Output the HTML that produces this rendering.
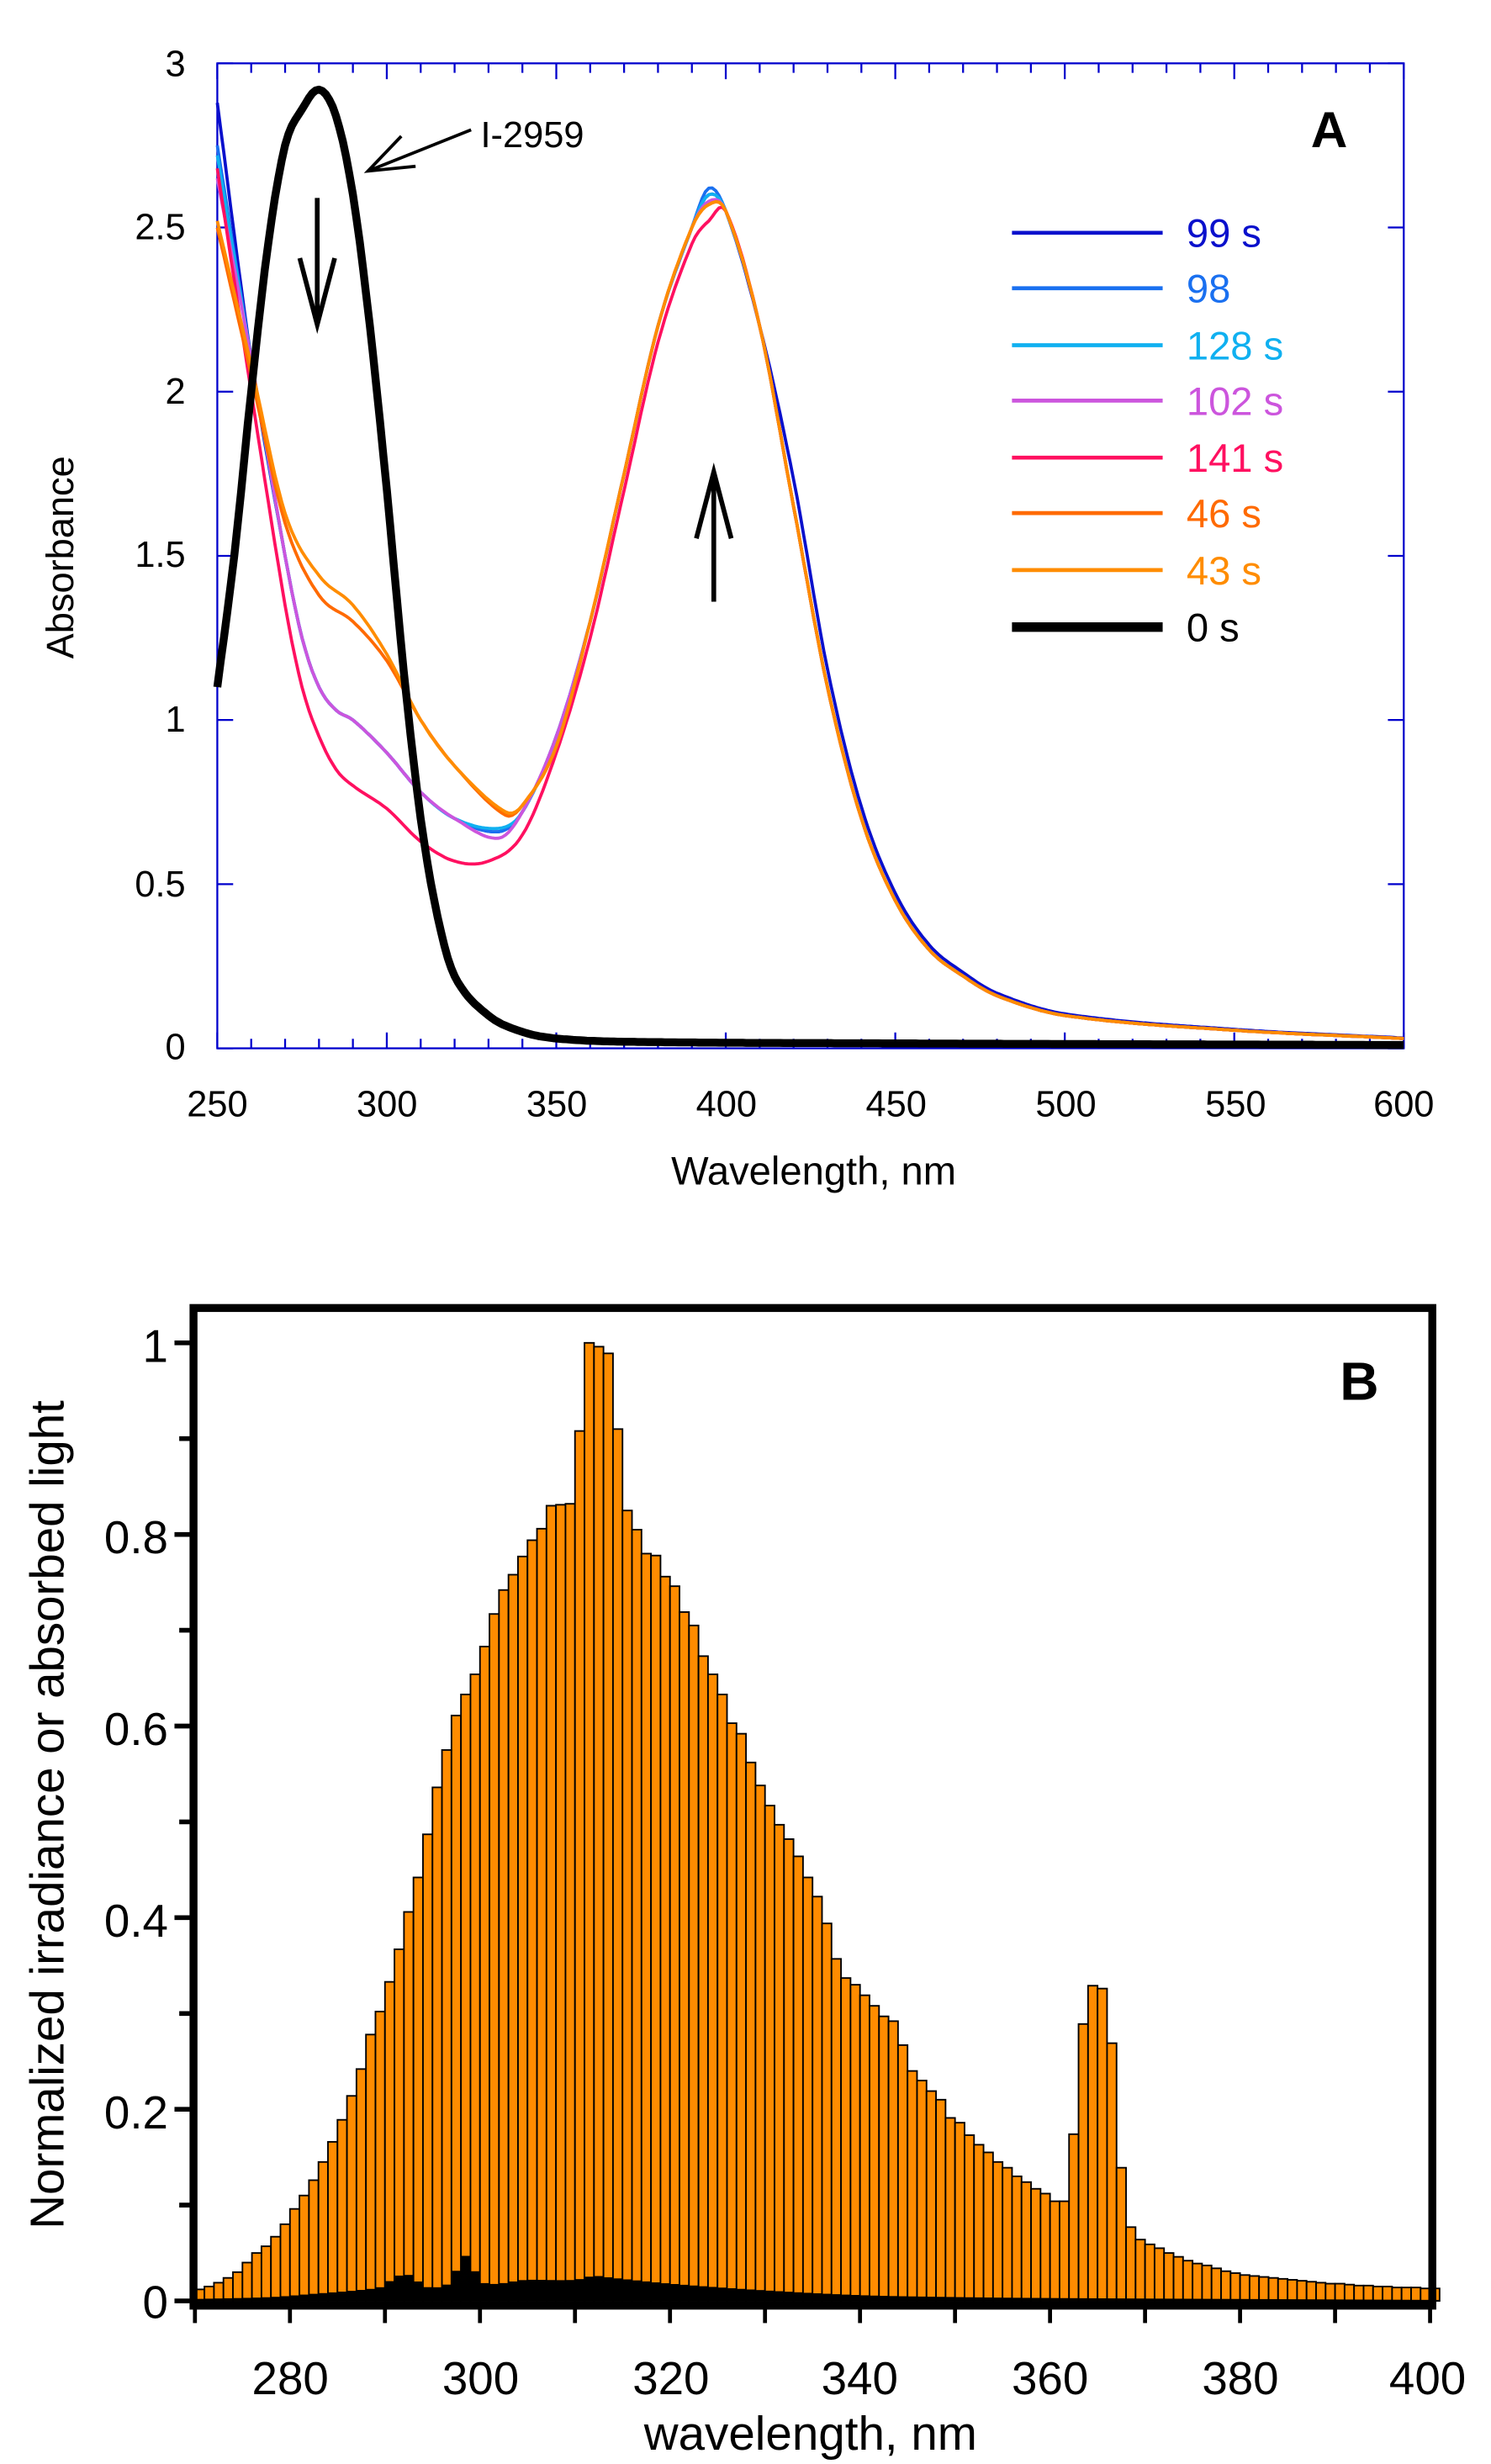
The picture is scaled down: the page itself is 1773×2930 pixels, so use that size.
<!DOCTYPE html>
<html><head><meta charset="utf-8"><style>html,body{margin:0;padding:0;background:#fff}svg{display:block}</style></head>
<body>
<svg id="s" width="1773" height="2930" viewBox="0 0 940 1556" preserveAspectRatio="none" xmlns="http://www.w3.org/2000/svg" font-family="Liberation Sans, sans-serif">
<rect width="940" height="1556" fill="#fff"/>
<g id="A"></g>
<g id="B"></g>
<!-- Chart A text -->
<g font-size="23" text-anchor="middle" fill="#000">
<text x="137" y="705">250</text><text x="244" y="705">300</text><text x="351" y="705">350</text><text x="458" y="705">400</text><text x="565" y="705">450</text><text x="672" y="705">500</text><text x="779" y="705">550</text><text x="885" y="705">600</text>
</g>
<g font-size="23" text-anchor="end" fill="#000">
<text x="117" y="48">3</text><text x="117" y="151">2.5</text><text x="117" y="255">2</text><text x="117" y="358">1.5</text><text x="117" y="462">1</text><text x="117" y="566">0.5</text><text x="117" y="669">0</text>
</g>
<text x="513" y="748" font-size="25" text-anchor="middle">Wavelength, nm</text>
<text transform="translate(46,352) rotate(-90)" font-size="24" text-anchor="middle">Absorbance</text>
<text x="838" y="93" font-size="32" font-weight="bold" text-anchor="middle">A</text>
<text x="303" y="93" font-size="23">I-2959</text>
<g font-size="25">
<text x="748" y="156" fill="#0a10cc">99 s</text>
<text x="748" y="191" fill="#1a70f0">98</text>
<text x="748" y="227" fill="#10b0f0">128 s</text>
<text x="748" y="262" fill="#cc55dd">102 s</text>
<text x="748" y="298" fill="#ff1060">141 s</text>
<text x="748" y="333" fill="#ff6a00">46 s</text>
<text x="748" y="369" fill="#ff8c00">43 s</text>
<text x="748" y="405" fill="#000">0 s</text>
</g>
<!-- Chart B text -->
<g font-size="29" text-anchor="end" fill="#000">
<text x="106" y="860">1</text><text x="106" y="981">0.8</text><text x="106" y="1102">0.6</text><text x="106" y="1223">0.4</text><text x="106" y="1344">0.2</text><text x="106" y="1464">0</text>
</g>
<g font-size="29" text-anchor="middle" fill="#000">
<text x="183" y="1512">280</text><text x="303" y="1512">300</text><text x="423" y="1512">320</text><text x="542" y="1512">340</text><text x="662" y="1512">360</text><text x="782" y="1512">380</text><text x="900" y="1512">400</text>
</g>
<text x="511" y="1547" font-size="30" text-anchor="middle">wavelength, nm</text>
<text transform="translate(40,1146) rotate(-90)" font-size="30" text-anchor="middle">Normalized irradiance or absorbed light</text>
<text x="857" y="884" font-size="34" font-weight="bold" text-anchor="middle">B</text>
</svg>
<script>
var NS="http://www.w3.org/2000/svg";
function el(p,t,a){var e=document.createElementNS(NS,t);for(var k in a)e.setAttribute(k,a[k]);p.appendChild(e);return e;}
var A=document.getElementById("A"),B=document.getElementById("B");
var L=137,R=885,T=40,Bt=662;
function xa(n){return L+(n-250)*(R-L)/350;}
function ya(v){return Bt-v*(Bt-T)/3;}
el(A,"rect",{x:L,y:T,width:R-L,height:Bt-T,fill:"none",stroke:"#0000cc","stroke-width":1.2});
for(var n=250;n<=600;n+=10){var mj=(n%50==0);var h=mj?10:6;
el(A,"line",{x1:xa(n),x2:xa(n),y1:Bt,y2:Bt-h,stroke:"#0000cc","stroke-width":1.2});
el(A,"line",{x1:xa(n),x2:xa(n),y1:T,y2:T+h,stroke:"#0000cc","stroke-width":1.2});}
for(var v=0;v<=3;v+=0.5){el(A,"line",{x1:L,x2:L+10,y1:ya(v),y2:ya(v),stroke:"#0000cc","stroke-width":1.2});
el(A,"line",{x1:R,x2:R-10,y1:ya(v),y2:ya(v),stroke:"#0000cc","stroke-width":1.2});}
function interp(pts,x){for(var i=0;i<pts.length-1;i++){if(x<=pts[i+1][0]){var p0=pts[Math.max(i-1,0)],p1=pts[i],p2=pts[i+1],p3=pts[Math.min(i+2,pts.length-1)];
var t=(x-p1[0])/(p2[0]-p1[0]);var m1=(p2[1]-p0[1])/(p2[0]-p0[0])*(p2[0]-p1[0]),m2=(p3[1]-p1[1])/(p3[0]-p1[0])*(p2[0]-p1[0]);
var t2=t*t,t3=t2*t;return (2*t3-3*t2+1)*p1[1]+(t3-2*t2+t)*m1+(-2*t3+3*t2)*p2[1]+(t3-t2)*m2;}}return pts[pts.length-1][1];}
function curve(pts,col,w){var d="";for(var x=250;x<=600;x+=1){d+=(x==250?"M":"L")+xa(x).toFixed(1)+","+ya(interp(pts,x)).toFixed(1);}
el(A,"path",{d:d,fill:"none",stroke:col,"stroke-width":w,"stroke-linejoin":"round"});}
var tail=[[400,2.55],[410,2.2],[420,1.65],[430,1.1],[440,0.7],[450,0.45],[460,0.3],[470,0.22],[480,0.16],[500,0.1],[550,0.055],[600,0.03]];
function base(s,low,pk){var p=[[250,s],[260,2.1],[270,1.5],[275,1.25],[280,1.1],[285,1.03],[290,1.0],[300,0.9],[310,0.78],[320,0.7],[333,low],[340,0.72],[350,0.95],[360,1.3],[370,1.75],[380,2.2],[390,2.5],[395,pk]];return p.concat(tail);}
curve(base(2.88,0.66,2.6).map(function(q){return q[0]>=420?[q[0],q[1]*1.05]:q;}),"#0a10cc",2);
curve(base(2.75,0.66,2.62),"#1a70f0",2);
curve(base(2.72,0.67,2.6),"#10b0f0",2);
curve(base(2.65,0.64,2.58),"#cc55dd",2);
curve([[250,2.68],[260,2.0],[270,1.35],[275,1.1],[280,0.95],[285,0.85],[290,0.8],[300,0.73],[310,0.63],[320,0.57],[330,0.57],[340,0.65],[350,0.9],[360,1.25],[370,1.7],[380,2.15],[390,2.45],[395,2.52]].concat(tail),"#ff1060",2);
curve([[250,2.5],[260,2.05],[270,1.6],[280,1.38],[290,1.3],[300,1.18],[310,1.0],[320,0.86],[335,0.71],[340,0.74],[350,0.92],[360,1.3],[370,1.75],[380,2.2],[390,2.5],[395,2.57]].concat(tail),"#ff6a00",2);
curve([[250,2.52],[260,2.08],[270,1.63],[280,1.44],[290,1.35],[300,1.2],[310,1.0],[320,0.86],[335,0.72],[340,0.74],[350,0.92],[360,1.3],[370,1.75],[380,2.2],[390,2.5],[395,2.57]].concat(tail),"#ff8c00",2);
curve([[250,1.1],[255,1.5],[260,2.0],[265,2.45],[270,2.75],[275,2.86],[280,2.92],[285,2.84],[290,2.6],[295,2.2],[300,1.7],[305,1.15],[310,0.7],[315,0.4],[320,0.22],[330,0.1],[340,0.05],[350,0.03],[370,0.02],[450,0.015],[600,0.01]],"#000",5);
var lc=[["#0a10cc",147],["#1a70f0",182],["#10b0f0",218],["#cc55dd",253],["#ff1060",289],["#ff6a00",324],["#ff8c00",360]];
lc.forEach(function(c){el(A,"line",{x1:638,x2:733,y1:c[1],y2:c[1],stroke:c[0],"stroke-width":2.5});});
el(A,"line",{x1:638,x2:733,y1:396,y2:396,stroke:"#000","stroke-width":6});
el(A,"line",{x1:200,x2:200,y1:125,y2:203,stroke:"#000","stroke-width":3});
el(A,"path",{d:"M189,163 L200,205 L211,163",fill:"none",stroke:"#000","stroke-width":3});
el(A,"line",{x1:450,x2:450,y1:380,y2:300,stroke:"#000","stroke-width":3});
el(A,"path",{d:"M439,340 L450,298 L461,340",fill:"none",stroke:"#000","stroke-width":3});
el(A,"line",{x1:297,x2:232,y1:82,y2:108,stroke:"#000","stroke-width":2});
el(A,"path",{d:"M253,86 L232,108 L262,105",fill:"none",stroke:"#000","stroke-width":2});
function xb(n){return 182.8+(n-280)*5.99;}
function yb(v){return 1453-605*v;}
var vals=[0.012,0.015,0.019,0.024,0.03,0.04,0.05,0.057,0.067,0.08,0.096,0.11,0.126,0.145,0.166,0.189,0.214,0.242,0.278,0.302,0.333,0.367,0.406,0.442,0.487,0.536,0.575,0.611,0.633,0.654,0.683,0.717,0.742,0.758,0.777,0.794,0.806,0.83,0.831,0.832,0.908,1.0,0.996,0.989,0.91,0.825,0.805,0.78,0.778,0.756,0.746,0.719,0.705,0.673,0.654,0.633,0.603,0.592,0.562,0.538,0.517,0.497,0.482,0.464,0.442,0.422,0.394,0.357,0.337,0.33,0.319,0.308,0.297,0.292,0.267,0.24,0.23,0.219,0.21,0.191,0.186,0.173,0.163,0.155,0.145,0.139,0.13,0.124,0.117,0.112,0.104,0.104,0.174,0.289,0.329,0.326,0.269,0.139,0.077,0.064,0.059,0.055,0.05,0.046,0.042,0.039,0.037,0.034,0.031,0.029,0.027,0.026,0.025,0.024,0.023,0.022,0.021,0.02,0.019,0.018,0.018,0.017,0.016,0.016,0.015,0.015,0.014,0.014,0.014,0.013,0.013];
var absPts=[[270,0.002],[278,0.004],[282,0.007],[288,0.012],[290,0.016],[291,0.025],[293,0.026],[294,0.015],[297,0.02],[298,0.044],[299,0.044],[300,0.02],[305,0.022],[310,0.022],[312,0.026],[314,0.024],[320,0.018],[330,0.011],[340,0.006],[350,0.004],[360,0.003],[380,0.002],[401,0.001]];
for(var i=0;i<vals.length;i++){var n0=270+i;if(n0>400.5)break;var w=Math.min(n0+1,401);
el(B,"rect",{x:xb(n0),y:yb(vals[i]),width:xb(w)-xb(n0),height:yb(0)-yb(vals[i]),fill:"#ff8c00",stroke:"#000","stroke-width":1});
var a=interp(absPts,n0+0.5);el(B,"rect",{x:xb(n0),y:yb(a),width:xb(w)-xb(n0)+0.3,height:yb(0)-yb(a),fill:"#000"});}
el(B,"rect",{x:122,y:826,width:781,height:630,fill:"none",stroke:"#000","stroke-width":5});
for(var v=0;v<=1.001;v+=0.1){var mj=Math.round(v*10)%2==0;el(B,"line",{x1:mj?110:113,x2:122,y1:yb(v),y2:yb(v),stroke:"#000","stroke-width":3});}
for(var n=270;n<=400;n+=10){el(B,"line",{x1:xb(n),x2:xb(n),y1:1456,y2:1467,stroke:"#000","stroke-width":2.5});}
</script>
</body></html>
